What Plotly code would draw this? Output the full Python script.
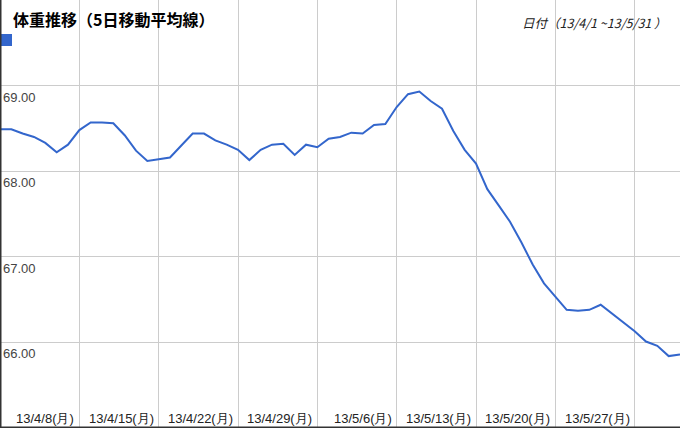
import pandas as pd
import plotly.graph_objects as go

# 5-day moving average of body weight, 2013/4/1 - 2013/5/31
dates = pd.date_range("2013-04-01", "2013-05-31", freq="D")
weight_ma5 = [
    68.49, 68.49, 68.44, 68.40, 68.33, 68.22, 68.31, 68.48, 68.57, 68.57,
    68.56, 68.42, 68.24, 68.12, 68.14, 68.16, 68.30, 68.44, 68.44, 68.36,
    68.31, 68.25, 68.13, 68.25, 68.31, 68.32, 68.19, 68.31, 68.28, 68.38,
    68.40, 68.45, 68.44, 68.54, 68.55, 68.75, 68.90, 68.93, 68.82, 68.73,
    68.47, 68.25, 68.09, 67.79, 67.60, 67.41, 67.17, 66.91, 66.69, 66.53,
    66.38, 66.37, 66.38, 66.44, 66.34, 66.24, 66.13, 66.01, 65.96, 65.84,
    65.86,
]

mondays = ["2013-04-08", "2013-04-15", "2013-04-22", "2013-04-29",
           "2013-05-06", "2013-05-13", "2013-05-20", "2013-05-27"]
monday_labels = ["13/4/8(月)", "13/4/15(月)", "13/4/22(月)", "13/4/29(月)",
                 "13/5/6(月)", "13/5/13(月)", "13/5/20(月)", "13/5/27(月)"]
y_ticks = [66, 67, 68, 69]
y_labels = ["66.00", "67.00", "68.00", "69.00"]

fig = go.Figure()
fig.add_trace(go.Scatter(x=dates, y=weight_ma5, mode="lines",
                         line=dict(color="#3366cc", width=2), hoverinfo="x+y"))

font = "Liberation Sans, Arial, sans-serif"
ann = []
for d, lab in zip(mondays, monday_labels):
    ann.append(dict(x=d, y=0, xref="x", yref="paper", text=lab, showarrow=False,
                    xanchor="right", yanchor="bottom", xshift=-3, yshift=0,
                    font=dict(family=font, size=13, color="#222222")))
for v, lab in zip(y_ticks, y_labels):
    ann.append(dict(x=0, y=v, xref="paper", yref="y", text=lab, showarrow=False,
                    xanchor="left", yanchor="top", xshift=1, yshift=-2,
                    font=dict(family=font, size=13, color="#444444")))
ann.append(dict(x=0, y=1, xref="paper", yref="paper", text="<b>体重推移（5日移動平均線）</b>",
                showarrow=False, xanchor="left", yanchor="top", xshift=11, yshift=-5,
                font=dict(family="Noto Sans CJK JP, sans-serif", size=16, color="#000000")))
ann.append(dict(x=1, y=1, xref="paper", yref="paper", text="<i>日付（13/4/1 ~13/5/31 ）</i>",
                showarrow=False, xanchor="right", yanchor="top", xshift=-11, yshift=-11,
                font=dict(family="Noto Sans CJK JP, sans-serif", size=12.5, color="#222222")))

fig.update_layout(
    width=680, height=428,
    margin=dict(l=0, r=0, t=0, b=0),
    paper_bgcolor="white", plot_bgcolor="white",
    showlegend=False,
    annotations=ann,
    shapes=[
        dict(type="rect", xref="paper", yref="paper", x0=0, x1=12 / 680,
             y0=1 - 46 / 428, y1=1 - 34 / 428, fillcolor="#3366cc", line=dict(width=0)),
        dict(type="line", xref="paper", yref="paper", x0=0, x1=0, y0=0, y1=1,
             line=dict(color="#333333", width=3)),
        dict(type="line", xref="paper", yref="paper", x0=0, x1=1, y0=0, y1=0,
             line=dict(color="#333333", width=3)),
    ],
    xaxis=dict(range=[dates[0], dates[-1]], tickvals=mondays, showticklabels=False,
               showgrid=True, gridcolor="#cccccc", gridwidth=1, zeroline=False,
               showline=False, ticks=""),
    yaxis=dict(range=[65, 70], tickvals=y_ticks, showticklabels=False,
               showgrid=True, gridcolor="#cccccc", gridwidth=1, zeroline=False,
               showline=False, ticks=""),
)

fig.write_html("out.html", config={"displayModeBar": False},
               post_script="document.body.style.margin='0';")
